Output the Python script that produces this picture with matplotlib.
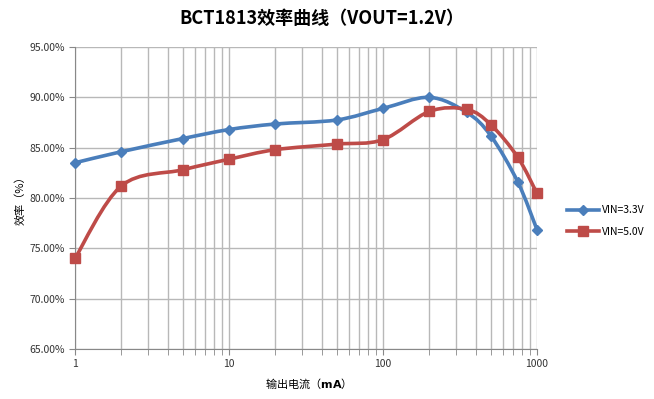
import matplotlib
matplotlib.use("Agg")
import matplotlib.pyplot as plt
import numpy as np
from matplotlib.path import Path
from matplotlib.patches import PathPatch
from matplotlib.ticker import FixedLocator, PercentFormatter, LogLocator, NullFormatter
from matplotlib.lines import Line2D

plt.rcParams['font.family'] = ['Noto Sans CJK SC', 'DejaVu Sans']

# data
current_ma = [1, 2, 5, 10, 20, 50, 100, 200, 350, 500, 750, 1000]
eff_vin33 = [83.5, 84.6, 85.9, 86.8, 87.35, 87.75, 88.9, 90.0, 88.5, 86.2, 81.6, 76.85]
eff_vin50 = [74.0, 81.2, 82.8, 83.85, 84.8, 85.35, 85.8, 88.6, 88.8, 87.3, 84.05, 80.45]
series_names = ["VIN=3.3V", "VIN=5.0V"]
y_ticks = [65, 70, 75, 80, 85, 90, 95]
x_ticks = [1, 10, 100, 1000]

blue = "#4A7EBB"
red = "#BE4B48"


def smooth_path(xs, ys):
    # excel-like smoothed line: bezier segments built in log-x space
    lx = np.log10(np.asarray(xs, float))
    y = np.asarray(ys, float)
    n = len(lx)
    verts = [(xs[0], y[0])]
    codes = [Path.MOVETO]
    for i in range(n - 1):
        p0 = i - 1 if i > 0 else i
        p3 = i + 2 if i + 2 < n else i + 1
        c1x = lx[i] + (lx[i + 1] - lx[p0]) / 6
        c1y = y[i] + (y[i + 1] - y[p0]) / 6
        c2x = lx[i + 1] - (lx[p3] - lx[i]) / 6
        c2y = y[i + 1] - (y[p3] - y[i]) / 6
        verts += [(10 ** c1x, c1y), (10 ** c2x, c2y), (xs[i + 1], y[i + 1])]
        codes += [Path.CURVE4] * 3
    return Path(verts, codes)


fig = plt.figure(figsize=(6.54, 3.99), dpi=100)
ax = fig.add_axes([75 / 654, 1 - 349 / 399, (537 - 75) / 654, (349 - 47) / 399])
ax.set_xscale('log')
ax.set_xlim(1, 1000)
ax.set_ylim(65, 95)

for ys, col, mk, ms in [(eff_vin33, blue, 'D', 5.5), (eff_vin50, red, 's', 7)]:
    ax.add_patch(PathPatch(smooth_path(current_ma, ys), fill=False,
                           edgecolor=col, lw=2.6, zorder=3, clip_on=False))
    ax.plot(current_ma, ys, ls='none', marker=mk, ms=ms, color=col, zorder=4, clip_on=False)

ax.xaxis.set_major_locator(FixedLocator(x_ticks))
ax.xaxis.set_minor_locator(LogLocator(base=10, subs=np.arange(2, 10)))
ax.xaxis.set_minor_formatter(NullFormatter())
ax.set_xticklabels([str(v) for v in x_ticks])
ax.yaxis.set_major_locator(FixedLocator(y_ticks))
ax.yaxis.set_major_formatter(PercentFormatter(decimals=2))

ax.grid(True, which='both', axis='x', color='#b8b8b8', lw=1)
ax.grid(True, which='major', axis='y', color='#b8b8b8', lw=1)
ax.set_axisbelow(True)
for s in ['top', 'right']:
    ax.spines[s].set_visible(False)
for s in ['left', 'bottom']:
    ax.spines[s].set_color('#888888')
ax.tick_params(which='both', color='#888888', direction='out', labelsize=7.5,
               labelcolor='#333333', length=4)

fig.suptitle("BCT1813效率曲线（VOUT=1.2V）", x=322 / 654, y=1 - 18 / 399, va='center',
             fontsize=13, fontweight='bold')
ax.set_ylabel("效率（%）", fontsize=8, labelpad=3)
ax.set_xlabel("输出电流（$\\mathbf{mA}$）", fontsize=8, labelpad=5)

handles = [Line2D([], [], color=blue, lw=2.6, marker='D', ms=5.5),
           Line2D([], [], color=red, lw=2.6, marker='s', ms=7)]
fig.legend(handles, series_names, loc='center left', bbox_to_anchor=(558 / 654, 1 - 221 / 399),
           frameon=False, fontsize=7.5, handlelength=3, labelspacing=1.1, handletextpad=0.3)

fig.savefig("out.png", dpi=100)
